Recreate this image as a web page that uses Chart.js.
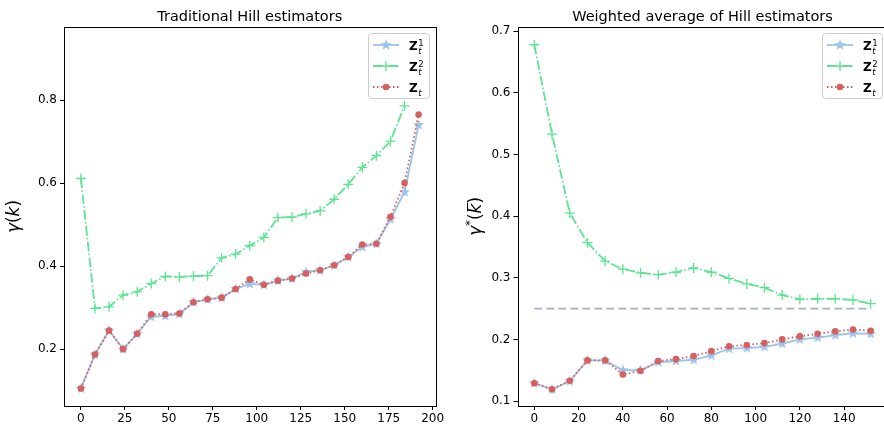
<!DOCTYPE html>
<html>
<head>
<meta charset="utf-8">
<script src="https://cdn.jsdelivr.net/npm/chart.js@4.4.1/dist/chart.umd.min.js"></script>
<style>
html,body{margin:0;padding:0;background:#fff;width:884px;height:431px;overflow:hidden;}
canvas{position:absolute;left:0;top:0;}
</style>
</head>
<body>
<canvas id="c1" width="884" height="431"></canvas>
<canvas id="c2" width="900" height="431"></canvas>
<script>
// ---------- data ----------
const kLeft = [0,8,16,24,32,40,48,56,64,72,80,88,96,104,112,120,128,136,144,152,160,168,176,184,192];
const leftZ1 = [0.105,0.187,0.245,0.200,0.237,0.278,0.280,0.285,0.313,0.320,0.324,0.345,0.357,0.355,0.365,0.370,0.386,0.390,0.402,0.422,0.446,0.454,0.513,0.578,0.740];
const leftZ2 = [0.611,0.298,0.302,0.330,0.338,0.358,0.375,0.374,0.376,0.377,0.420,0.429,0.449,0.469,0.517,0.518,0.526,0.533,0.561,0.597,0.638,0.666,0.701,0.786];
const leftZ  = [0.105,0.187,0.245,0.200,0.237,0.284,0.284,0.286,0.313,0.320,0.324,0.345,0.368,0.355,0.365,0.370,0.382,0.390,0.402,0.422,0.452,0.454,0.519,0.600,0.765];

const kRight = [0,8,16,24,32,40,48,56,64,72,80,88,96,104,112,120,128,136,144,152];
const rightZ1 = [0.129,0.119,0.132,0.166,0.166,0.150,0.150,0.163,0.165,0.167,0.174,0.185,0.186,0.188,0.193,0.200,0.203,0.207,0.210,0.209];
const rightZ2 = [0.678,0.533,0.405,0.357,0.327,0.314,0.308,0.305,0.309,0.316,0.309,0.299,0.290,0.284,0.272,0.265,0.266,0.266,0.264,0.258];
const rightZ  = [0.129,0.119,0.133,0.166,0.166,0.143,0.149,0.165,0.168,0.173,0.181,0.189,0.191,0.194,0.200,0.205,0.209,0.213,0.216,0.214];
const refLevel = 0.25;
const refRange = [0,152];

const xTicksLeft = [0,25,50,75,100,125,150,175,200];
const yTicksLeft = [0.2,0.4,0.6,0.8];
const xTicksRight = [0,20,40,60,80,100,120,140];
const yTicksRight = [0.1,0.2,0.3,0.4,0.5,0.6,0.7];

// ---------- styles ----------
const BLUE = '#9dc3e8', GREEN = '#5ce492', RED = '#d65f5f', REFC = '#a3b1c9';
const FONT = '"DejaVu Sans", sans-serif';

function makeStar(color){
  const c = document.createElement('canvas'); c.width = 14; c.height = 14;
  const g = c.getContext('2d');
  g.beginPath();
  for (let i=0;i<10;i++){
    const r = i%2===0 ? 5.8 : 2.4;
    const a = -Math.PI/2 + i*Math.PI/5;
    const x = 7 + r*Math.cos(a), y = 7 + r*Math.sin(a);
    i===0 ? g.moveTo(x,y) : g.lineTo(x,y);
  }
  g.closePath(); g.fillStyle = color; g.fill();
  return c;
}
const star = makeStar(BLUE);

const pts = (xs, ys) => ys.map((v,i)=>({x:xs[i], y:v}));

function drawLegendEntryText(ctx, x, y, sup){
  ctx.fillStyle = '#000';
  ctx.textAlign = 'left'; ctx.textBaseline = 'alphabetic';
  ctx.font = 'bold 12px ' + FONT;
  ctx.fillText('Z', x, y + 5);
  const w = ctx.measureText('Z').width;
  ctx.font = 'italic 8.5px ' + FONT;
  ctx.fillText('t', x + w + 0.5, y + 8.5);
  if (sup) { ctx.font = '8.5px ' + FONT; ctx.fillText(sup, x + w + 0.5, y + 0.5); }
}

const deco = {
  id: 'deco',
  afterDraw(chart, args, o) {
    const ctx = chart.ctx, a = chart.chartArea;
    ctx.save();
    // spines
    ctx.strokeStyle = '#000'; ctx.lineWidth = 1;
    ctx.strokeRect(Math.round(a.left)+0.5, Math.round(a.top)+0.5, Math.round(a.right-a.left), Math.round(a.bottom-a.top));
    // title
    ctx.fillStyle = '#000';
    ctx.font = '14.5px ' + FONT;
    ctx.textAlign = 'center'; ctx.textBaseline = 'alphabetic';
    ctx.fillText(o.title, (a.left + a.right)/2, 20.5);
    // y label
    ctx.save();
    ctx.translate(o.ylx, (a.top + a.bottom)/2);
    ctx.rotate(-Math.PI/2);
    ctx.textBaseline = 'middle';
    if (o.star) {
      const parts = [
        ['italic 17px ' + FONT, 'γ', 0],
        ['12px ' + FONT, '*', -6],
        ['17px ' + FONT, '(', 0],
        ['italic 17px ' + FONT, 'k', 0],
        ['17px ' + FONT, ')', 0]
      ];
      let tot = 0;
      parts.forEach(p => { ctx.font = p[0]; tot += ctx.measureText(p[1]).width; });
      let x = -tot/2;
      ctx.textAlign = 'left';
      parts.forEach(p => {
        ctx.font = p[0];
        const w = ctx.measureText(p[1]).width;
        ctx.fillText(p[1], x, p[2]);
        if (p[1] === 'k') {
          ctx.lineWidth = 1; ctx.beginPath();
          ctx.moveTo(x + 2, -9.5); ctx.lineTo(x + w + 1, -9.5); ctx.stroke();
        }
        x += w;
      });
    } else {
      const parts = [['italic 17px ' + FONT, 'γ'], ['17px ' + FONT, '('], ['italic 17px ' + FONT, 'k'], ['17px ' + FONT, ')']];
      let tot = 0;
      parts.forEach(p => { ctx.font = p[0]; tot += ctx.measureText(p[1]).width; });
      let x = -tot/2;
      ctx.textAlign = 'left';
      parts.forEach(p => { ctx.font = p[0]; ctx.fillText(p[1], x, 0); x += ctx.measureText(p[1]).width; });
    }
    ctx.restore();
    // legend
    const L = o.legend;
    ctx.beginPath();
    ctx.roundRect(L.x + 0.5, L.y + 0.5, L.w, L.h, 3);
    ctx.fillStyle = 'rgba(255,255,255,0.8)'; ctx.fill();
    ctx.strokeStyle = '#cccccc'; ctx.lineWidth = 1; ctx.stroke();
    const rows = [L.y + 12, L.y + 33, L.y + 54];
    const h0 = L.x + 5, h1 = L.x + 31, hm = (h0 + h1)/2;
    // row 1: blue solid + star
    ctx.lineWidth = 1.8;
    ctx.strokeStyle = BLUE; ctx.setLineDash([]);
    ctx.beginPath(); ctx.moveTo(h0, rows[0]); ctx.lineTo(h1, rows[0]); ctx.stroke();
    ctx.drawImage(star, hm - 7, rows[0] - 7);
    // row 2: green dash-dot + plus
    ctx.strokeStyle = GREEN; ctx.setLineDash([9.6,2.4,1.5,2.4]);
    ctx.beginPath(); ctx.moveTo(h0, rows[1]); ctx.lineTo(h1, rows[1]); ctx.stroke();
    ctx.setLineDash([]); ctx.lineWidth = 1.3;
    ctx.beginPath(); ctx.moveTo(hm - 5, rows[1]); ctx.lineTo(hm + 5, rows[1]);
    ctx.moveTo(hm, rows[1] - 5); ctx.lineTo(hm, rows[1] + 5); ctx.stroke();
    // row 3: red dotted + circle
    ctx.strokeStyle = RED; ctx.lineWidth = 1.8; ctx.setLineDash([1.5,2.5]);
    ctx.beginPath(); ctx.moveTo(h0, rows[2]); ctx.lineTo(h1, rows[2]); ctx.stroke();
    ctx.setLineDash([]);
    ctx.fillStyle = RED; ctx.beginPath(); ctx.arc(hm, rows[2], 3.3, 0, Math.PI*2); ctx.fill();
    // texts
    const tx = L.x + 41;
    drawLegendEntryText(ctx, tx, rows[0], '1');
    drawLegendEntryText(ctx, tx, rows[1], '2');
    drawLegendEntryText(ctx, tx, rows[2], null);
    ctx.restore();
  }
};

function scales(xmin, xmax, xt, ymin, ymax, yt, yw){
  const tickFont = {family: FONT, size: 12};
  return {
    x: {
      type: 'linear', min: xmin, max: xmax,
      afterBuildTicks: s => { s.ticks = xt.map(v => ({value: v})); },
      afterFit: s => { s.height = 25; },
      grid: {display: true, drawOnChartArea: false, drawTicks: true, tickLength: 4, color: '#000', lineWidth: 1},
      border: {display: false},
      ticks: {autoSkip: false, maxRotation: 0, padding: 2, color: '#000', font: tickFont, callback: v => String(v)}
    },
    y: {
      type: 'linear', min: ymin, max: ymax,
      afterBuildTicks: s => { s.ticks = yt.map(v => ({value: v})); },
      afterFit: s => { s.width = yw; },
      grid: {display: true, drawOnChartArea: false, drawTicks: true, tickLength: 4, color: '#000', lineWidth: 1},
      border: {display: false},
      ticks: {autoSkip: false, padding: 3, color: '#000', font: tickFont, callback: v => v.toFixed(1)}
    }
  };
}

function seriesSets(xs, z1, z2, z){
  return [
    {label: 'Zt', data: pts(xs, z), borderColor: RED, backgroundColor: RED, borderWidth: 1.8,
     borderDash: [1.5,2.5], pointStyle: 'circle', pointRadius: 3.3, pointBorderWidth: 0, order: 0},
    {label: 'Zt2', data: pts(xs, z2), borderColor: GREEN, backgroundColor: GREEN, borderWidth: 1.8,
     borderDash: [9.6,2.4,1.5,2.4], pointStyle: 'cross', pointRadius: 5, pointBorderWidth: 1.3, order: 1},
    {label: 'Zt1', data: pts(xs, z1), borderColor: BLUE, backgroundColor: BLUE, borderWidth: 1.8,
     pointStyle: star, pointRadius: 6, order: 2}
  ];
}

const common = {
  responsive: false, animation: false, devicePixelRatio: 1,
  plugins: {legend: {display: false}, tooltip: {enabled: false}},
  elements: {line: {tension: 0, fill: false}},
};

new Chart(document.getElementById('c1'), {
  type: 'line',
  data: {datasets: seriesSets(kLeft, leftZ1, leftZ2, leftZ)},
  options: Object.assign({}, common, {
    layout: {padding: {left: 0, top: 27, right: 884 - 435.5, bottom: 0}},
    scales: scales(-9.6, 201.6, xTicksLeft, 0.063, 0.976, yTicksLeft, 64),
    plugins: Object.assign({}, common.plugins, {
      deco: {title: 'Traditional Hill estimators', ylx: 14.5, star: false,
             legend: {x: 368, y: 33, w: 61, h: 65}}
    })
  }),
  plugins: [deco]
});

const ds2 = seriesSets(kRight, rightZ1, rightZ2, rightZ);
ds2.push({label: 'ref', data: refRange.map(x => ({x: x, y: refLevel})), borderColor: REFC, borderWidth: 1.6,
          borderDash: [8,4], pointRadius: 0, order: 3});

new Chart(document.getElementById('c2'), {
  type: 'line',
  data: {datasets: ds2},
  options: Object.assign({}, common, {
    layout: {padding: {left: 0, top: 27, right: 900 - 887.5, bottom: 0}},
    scales: scales(-7.6, 159.6, xTicksRight, 0.092, 0.7068, yTicksRight, 517.5),
    plugins: Object.assign({}, common.plugins, {
      deco: {title: 'Weighted average of Hill estimators', ylx: 477, star: true,
             legend: {x: 822, y: 33, w: 60, h: 65}}
    })
  }),
  plugins: [deco]
});
</script>
</body>
</html>
